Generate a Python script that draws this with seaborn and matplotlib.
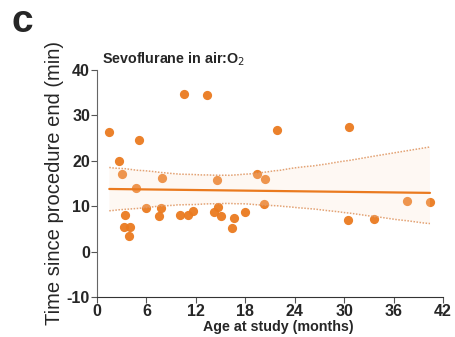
import matplotlib
matplotlib.use("Agg")
import matplotlib.pyplot as plt
import pandas as pd
import seaborn as sns

# Valores
age_months = [1.5, 2.7, 3.1, 4.8, 5.1, 10.6, 13.3, 7.85, 14.6, 19.4, 20.4, 21.9,
              30.6, 37.6, 40.4, 30.5, 33.6, 20.3, 3.45, 3.3, 4.0, 3.9,
              6.0, 7.8, 7.55, 10.1, 11.1, 11.7, 14.2, 14.65, 15.1, 16.4, 16.6, 18.0]
time_min = [26.4, 20.0, 17.0, 13.9, 24.6, 34.7, 34.5, 16.3, 15.8, 17.1, 16.1, 26.7,
            27.5, 11.1, 10.9, 7.0, 7.2, 10.4, 8.1, 5.35, 5.35, 3.5,
            9.6, 9.7, 7.8, 8.1, 8.1, 8.9, 8.8, 9.8, 7.8, 5.1, 7.5, 8.7]

x_ticks = [0, 6, 12, 18, 24, 30, 36, 42]
y_ticks = [-10, 0, 10, 20, 30, 40]

df = pd.DataFrame({"age": age_months, "time": time_min})

sns.set_style("ticks")
plt.rcParams["font.family"] = ["Liberation Sans", "DejaVu Sans"]
plt.rcParams["axes.unicode_minus"] = False

orange = "#ea7a1f"

fig = plt.figure(figsize=(4.55, 3.37), dpi=100)
ax = fig.add_axes([0.213, 0.119, 0.761, 0.673])

sns.regplot(data=df, x="age", y="time", ax=ax, ci=97, n_boot=2000, seed=7,
            scatter_kws={"s": 44, "color": orange, "alpha": 0.95, "linewidths": 0},
            line_kws={"color": orange, "lw": 1.6})

# faixa de confiança: preenchimento claro + bordas pontilhadas (sem os lados verticais)
band = ax.collections[-1]
band.set_alpha(None)
band.set_facecolor((0.99, 0.88, 0.80, 0.22))
band.set_edgecolor("none")

verts = pd.DataFrame(band.get_paths()[0].vertices, columns=["x", "y"])
limits = verts.groupby("x")["y"].agg(["min", "max"]).reset_index()
for col in ["min", "max"]:
    ax.plot(limits["x"], limits[col], color=(0.88, 0.60, 0.40, 0.9),
            lw=1.1, ls=(0, (1, 1)))

ax.set_xlim(0, 42)
ax.set_ylim(-10, 40)
ax.set_xticks(x_ticks)
ax.set_yticks(y_ticks)
ax.tick_params(labelsize=11.5, length=4, width=0.8, color="#555555", pad=1)
for lab in ax.get_xticklabels() + ax.get_yticklabels():
    lab.set_fontweight("bold")
sns.despine(ax=ax)
ax.spines["left"].set_color("#666666")
ax.spines["bottom"].set_color("#333333")

ax.set_xlabel("Age at study (months)", fontsize=10.3, fontweight="bold")
ax.xaxis.set_label_coords(0.523, -0.1)
ax.set_ylabel("Time since procedure end (min)", fontsize=14.5, labelpad=2)
ax.set_title("Sevoflurane in air:O$_2$", fontsize=10.3, fontweight="bold",
             loc="left", pad=5, x=0.015)

fig.text(0.025, 0.905, "c", fontsize=28, fontweight="bold")

plt.savefig("out.png", dpi=100)
